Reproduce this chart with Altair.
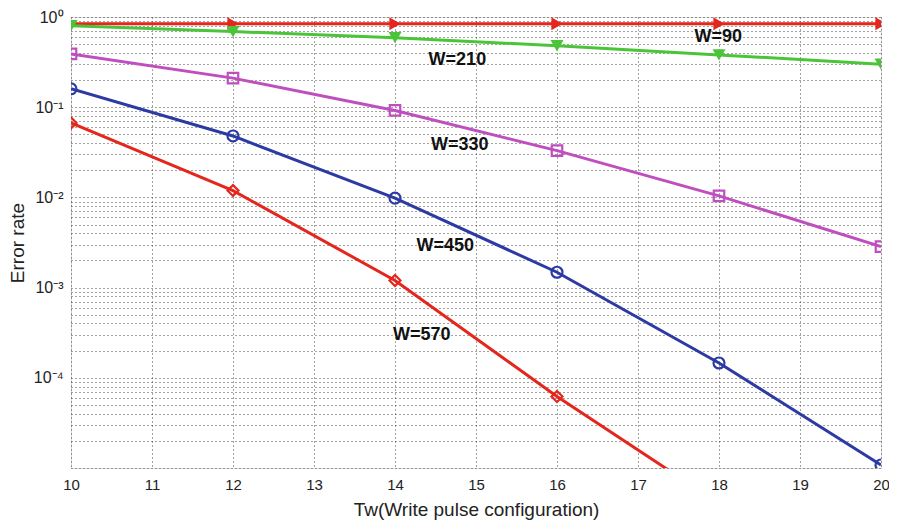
import altair as alt
import pandas as pd

tw = [10, 12, 14, 16, 18, 20]
w90 = [0.84, 0.84, 0.84, 0.84, 0.84, 0.84]
w210 = [0.80, 0.69, 0.59, 0.48, 0.38, 0.30]
w330 = [0.39, 0.21, 0.092, 0.033, 0.0104, 0.00285]
w450 = [0.16, 0.048, 0.0098, 0.00148, 1.46e-4, 1.08e-5]
tw570 = [10, 12, 14, 16, 18]
w570 = [0.067, 0.0119, 0.0012, 6.2e-5, 4.05e-6]

series_names = ["W=90", "W=210", "W=330", "W=450", "W=570"]
series_colors = ["#e5261c", "#4cc43a", "#bf4fbf", "#2c3aa3", "#e5261c"]
series_shapes = ["triangle-right", "triangle-down", "square", "circle", "diamond"]
series_filled = [True, True, False, False, False]
series_sizes = [170, 170, 110, 120, 120]

label_text = ["W=90", "W=210", "W=330", "W=450", "W=570"]
label_x = [17.99, 14.77, 14.80, 14.62, 14.33]
label_y = [0.597, 0.333, 0.0379, 0.00292, 3.0e-4]

x_ticks = list(range(10, 21))
y_ticks = [m * 10.0 ** e for e in range(-5, 0) for m in range(1, 10)] + [1.0]

series_x = [tw, tw, tw, tw, tw570]
series_y = [w90, w210, w330, w450, w570]

font = "Liberation Sans"

xscale = alt.Scale(domain=[10, 20], nice=False, zero=False)
yscale = alt.Scale(type="log", domain=[1e-5, 1], nice=False)

label_expr = (
    "abs(datum.value - 1) < 1e-9 ? '10⁰' : "
    "abs(datum.value - 0.1) < 1e-12 ? '10⁻¹' : "
    "abs(datum.value - 0.01) < 1e-13 ? '10⁻²' : "
    "abs(datum.value - 0.001) < 1e-14 ? '10⁻³' : "
    "abs(datum.value - 0.0001) < 1e-15 ? '10⁻⁴' : ''"
)

x_enc = alt.X("tw:Q", scale=xscale,
              axis=alt.Axis(values=x_ticks, format="d", title="Tw(Write pulse configuration)",
                            grid=True, gridDash=[1, 3], gridColor="#444", gridWidth=1,
                            ticks=False, domain=False, labelFont=font, labelFontSize=15,
                            labelColor="#222", labelPadding=9, labelFlush=False,
                            titleFont=font,
                            titleFontSize=19, titleFontWeight="normal", titleColor="#222",
                            titlePadding=8))
y_enc = alt.Y("v:Q", scale=yscale,
              axis=alt.Axis(values=y_ticks, labelExpr=label_expr, labelOverlap=False,
                            labelFlush=False,
                            title="Error rate", grid=True, gridDash=[1, 3], gridColor="#444",
                            gridWidth=1, ticks=False, domain=False, labelFont=font,
                            labelFontSize=16, labelColor="#222", labelPadding=8,
                            titleFont=font, titleFontSize=19, titleFontWeight="normal",
                            titleColor="#222", titleX=-44))

layers = []
for i, name in enumerate(series_names):
    df = pd.DataFrame({"tw": series_x[i], "v": series_y[i], "series": name})
    base = alt.Chart(df)
    line = base.mark_line(color=series_colors[i], strokeWidth=3, clip=True).encode(
        x=x_enc, y=y_enc)
    pt = base.mark_point(shape=series_shapes[i], color=series_colors[i],
                         filled=series_filled[i], size=series_sizes[i], strokeWidth=2.2,
                         opacity=1, clip=True).encode(x="tw:Q", y="v:Q")
    layers += [line, pt]

lab_df = pd.DataFrame({"tw": label_x, "v": label_y, "t": label_text})
labels = alt.Chart(lab_df).mark_text(font=font, fontSize=18, fontWeight="bold",
                                     color="#111", align="center", baseline="middle").encode(
    x="tw:Q", y="v:Q", text="t:N")
layers.append(labels)

chart = alt.layer(*layers).properties(
    width=810, height=451,
    autosize=alt.AutoSizeParams(type="none"),
    padding={"left": 63, "top": 9, "right": 8, "bottom": 52},
).configure_view(stroke="#555", strokeWidth=1.5).configure(background="white")

chart.save("out.html", embed_options={"renderer": "svg", "actions": False})
